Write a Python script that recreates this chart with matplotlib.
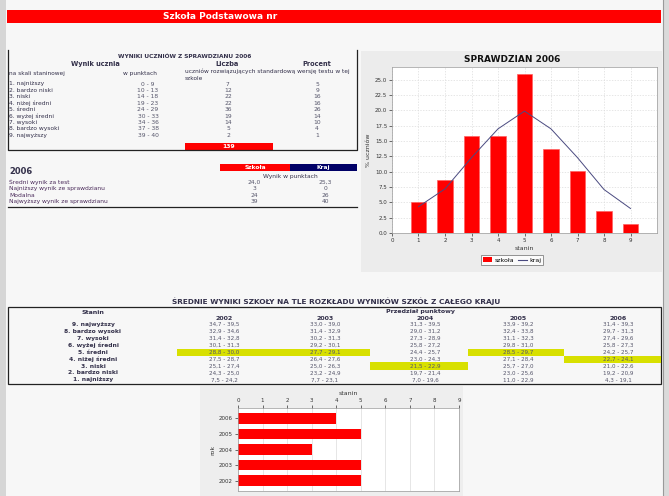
import matplotlib
matplotlib.use("Agg")
import matplotlib.pyplot as plt
from matplotlib.patches import Rectangle, Patch
from matplotlib.lines import Line2D

# ── data ────────────────────────────────────────────────────────────────
banner_title = "Szkoła Podstawowa nr"

stanin_labels = ["1. najniższy", "2. bardzo niski", "3. niski", "4. niżej średni",
                 "5. średni", "6. wyżej średni", "7. wysoki", "8. bardzo wysoki",
                 "9. najwyższy"]
point_ranges = ["0 - 9", "10 - 13", "14 - 18", "19 - 23", "24 - 29",
                "30 - 33", "34 - 36", "37 - 38", "39 - 40"]
student_counts = [7, 12, 22, 22, 36, 19, 14, 5, 2]
student_pct = [5, 9, 16, 16, 26, 14, 10, 4, 1]
total_students = 139

summary_labels = ["Średni wynik za test", "Najniższy wynik ze sprawdzianu",
                  "Modalna", "Najwyższy wynik ze sprawdzianu"]
summary_school = ["24,0", "3", "24", "39"]
summary_country = ["25,3", "0", "26", "40"]

stanins = [1, 2, 3, 4, 5, 6, 7, 8, 9]
school_pct = [5.0, 8.6, 15.8, 15.8, 25.9, 13.7, 10.1, 3.6, 1.4]
country_pct = [4.3, 7.2, 12.3, 17.0, 19.9, 17.0, 12.3, 7.1, 4.0]

years = ["2002", "2003", "2004", "2005", "2006"]
# rows from stanin 9 (top) down to stanin 1
ranges_2002 = ["34,7 - 39,5", "32,9 - 34,6", "31,4 - 32,8", "30,1 - 31,3", "28,8 - 30,0",
               "27,5 - 28,7", "25,1 - 27,4", "24,3 - 25,0", "7,5 - 24,2"]
ranges_2003 = ["33,0 - 39,0", "31,4 - 32,9", "30,2 - 31,3", "29,2 - 30,1", "27,7 - 29,1",
               "26,4 - 27,6", "25,0 - 26,3", "23,2 - 24,9", "7,7 - 23,1"]
ranges_2004 = ["31,3 - 39,5", "29,0 - 31,2", "27,3 - 28,9", "25,8 - 27,2", "24,4 - 25,7",
               "23,0 - 24,3", "21,5 - 22,9", "19,7 - 21,4", "7,0 - 19,6"]
ranges_2005 = ["33,9 - 39,2", "32,4 - 33,8", "31,1 - 32,3", "29,8 - 31,0", "28,5 - 29,7",
               "27,1 - 28,4", "25,7 - 27,0", "23,0 - 25,6", "11,0 - 22,9"]
ranges_2006 = ["31,4 - 39,3", "29,7 - 31,3", "27,4 - 29,6", "25,8 - 27,3", "24,2 - 25,7",
               "22,7 - 24,1", "21,0 - 22,6", "19,2 - 20,9", "4,3 - 19,1"]
school_stanin_by_year = [5, 5, 3, 5, 4]

RED = "#ff0000"
NAVY = "#000066"
YELLOW = "#d8e000"
LABEL_C = "#33304a"
VALUE_C = "#55556a"

W, H = 669, 496
fig = plt.figure(figsize=(W / 100, H / 100), dpi=100)
fig.patch.set_facecolor("#f7f7f7")

# background layer in pixel coordinates
bg = fig.add_axes([0, 0, 1, 1])
bg.set_xlim(0, W)
bg.set_ylim(H, 0)
bg.axis("off")


def rect(x0, y0, x1, y1, **kw):
    bg.add_patch(Rectangle((x0, y0), x1 - x0, y1 - y0, **kw))


def txt(x, y, s, size=4.3, ha="left", color=LABEL_C, weight="normal"):
    bg.text(x, y, s, fontsize=size, ha=ha, va="center", color=color, fontweight=weight)


def px_axes(x0, y0, x1, y1):
    return fig.add_axes([x0 / W, 1 - y1 / H, (x1 - x0) / W, (y1 - y0) / H])


# window frame strips
rect(0, 0, 6, H, color="#d6d6d6", lw=0)
rect(663, 0, W, H, color="#dadada", lw=0)
bg.plot([662.5, 662.5], [0, H], color="#9a9a9a", lw=0.8)

# banner
rect(7, 10, 661, 23, color=RED, lw=0)
txt(220, 16.5, banner_title, size=6.5, ha="center", color="white", weight="bold")

# ── table 1: student results ──────────────────────────────────────────────
txt(185, 56, "WYNIKI UCZNIÓW Z SPRAWDZIANU 2006", size=4.2, ha="center", weight="bold")
txt(95, 64, "Wynik ucznia", size=4.8, ha="center", weight="bold")
txt(227, 64, "Liczba", size=4.8, ha="center", weight="bold")
txt(317, 64, "Procent", size=4.8, ha="center", weight="bold")
txt(9, 73, "na skali staninowej", size=4.2)
txt(140, 73, "w punktach", size=4.2, ha="center")
txt(185, 71, "uczniów rozwiązujących standardową wersję testu w tej", size=4.2)
txt(185, 78, "szkole", size=4.2)
row_y = [84 + 6.4 * i for i in range(9)]
for i, y in enumerate(row_y):
    txt(9, y, stanin_labels[i])
    txt(148, y, point_ranges[i], ha="center", color=VALUE_C)
    txt(228, y, str(student_counts[i]), ha="center", color=VALUE_C)
    txt(317, y, str(student_pct[i]), ha="center", color=VALUE_C)
rect(185, 143, 273, 150, color=RED, lw=0)
txt(229, 146.5, str(total_students), ha="center", color="white", weight="bold")
bg.plot([8, 8, 357, 357], [50, 150, 150, 50], color="#222222", lw=0.9)

# ── table 2: summary 2006 ────────────────────────────────────────────────
txt(9, 171, "2006", size=6, weight="bold")
rect(220, 164, 290, 171, color=RED, lw=0)
rect(290, 164, 357, 171, color=NAVY, lw=0)
txt(255, 167.5, "Szkoła", size=4.2, ha="center", color="white", weight="bold")
txt(323, 167.5, "Kraj", size=4.2, ha="center", color="white", weight="bold")
txt(290, 176.5, "Wynik w punktach", size=4.3, ha="center")
for i, y in enumerate([182.5, 188.8, 195.1, 201.4]):
    txt(9, y, summary_labels[i], color="#4a2a5a")
    txt(254, y, summary_school[i], ha="center", color=VALUE_C)
    txt(325, y, summary_country[i], ha="center", color=VALUE_C)
bg.plot([8, 357], [206.5, 206.5], color="#222222", lw=0.9)

# ── table 3: school means against national stanine ranges ──────────────────
txt(336, 301.5, "ŚREDNIE WYNIKI SZKOŁY NA TLE ROZKŁADU WYNIKÓW SZKÓŁ Z CAŁEGO KRAJU",
    size=5.3, ha="center", weight="bold")
rect(8, 307, 661, 384, fill=False, ec="#222222", lw=0.9)
txt(93, 313, "Stanin", size=4.5, ha="center", weight="bold")
txt(421, 311.5, "Przedział punktowy", size=4.5, ha="center", weight="bold")
col_x = [224, 325, 425, 518, 618]
col_edges = [177, 270, 370, 468, 564, 661]
year_ranges = [ranges_2002, ranges_2003, ranges_2004, ranges_2005, ranges_2006]
t3_rows = [324.6 + 6.9 * i for i in range(9)]
for j, yr in enumerate(years):
    row = 9 - school_stanin_by_year[j]
    rect(col_edges[j], t3_rows[row] - 3.6, col_edges[j + 1], t3_rows[row] + 3.6,
         color=YELLOW, lw=0)
    txt(col_x[j], 318, yr, size=4.5, ha="center", weight="bold")
    for i, y in enumerate(t3_rows):
        txt(col_x[j], y, year_ranges[j][i], size=4.1, ha="center", color=VALUE_C)
for i, y in enumerate(t3_rows):
    txt(93, y, stanin_labels[8 - i], size=4.3, ha="center", weight="bold")

# ── chart: SPRAWDZIAN 2006 ─────────────────────────────────────────────────
rect(361, 51, 662, 272, color="#ececec", lw=0)
txt(512, 59, "SPRAWDZIAN 2006", size=6.5, ha="center", color="#111111", weight="bold")
ax = px_axes(392, 67, 657, 233)
ax.set_facecolor("white")
ax.bar(stanins, school_pct, width=0.6, color=RED, edgecolor="#ff6060", lw=0.5,
       zorder=2, label="szkoła")
ax.plot(stanins, country_pct, color="#4a4a80", lw=0.7, zorder=3, label="kraj")
ax.set_xlim(0, 10)
ax.set_ylim(0, 27.1)
ax.set_xticks(range(10))
ax.set_yticks([2.5 * k for k in range(11)])
ax.set_yticklabels([f"{2.5 * k:.1f}" for k in range(11)])
ax.grid(True, color="#dcdcdc", lw=0.5, ls=(0, (2, 2)), zorder=0)
ax.tick_params(labelsize=4, length=2, width=0.5, pad=1.5, colors="#333333")
for s in ax.spines.values():
    s.set_color("#999999")
    s.set_linewidth(0.5)
ax.set_xlabel("stanin", fontsize=4.5, labelpad=2, color="#333333")
ax.set_ylabel("% uczniów", fontsize=4.5, labelpad=3, color="#333333")
leg = ax.legend(handles=[Patch(facecolor=RED, label="szkoła"),
                         Line2D([0], [0], color="#4a4a80", lw=0.8, label="kraj")],
                loc="center", bbox_to_anchor=(512 / W, 1 - 260 / H),
                bbox_transform=fig.transFigure, ncol=2, fontsize=4.5,
                frameon=True, fancybox=False, edgecolor="#666666",
                handlelength=1.5, handletextpad=0.3, columnspacing=0.6,
                borderpad=0.35)
leg.get_frame().set_linewidth(0.6)
leg.get_frame().set_facecolor("white")

# ── chart: school stanin by year ───────────────────────────────────────────
rect(200, 386, 463, H, color="#eeeeee", lw=0)
bx = px_axes(238, 408, 459, 491)
bx.set_facecolor("white")
ypos = list(range(len(years)))
bx.barh(ypos, school_stanin_by_year, height=0.7, color=RED, zorder=2)
bx.set_xlim(0, 9)
bx.set_ylim(-0.67, len(years) - 0.33)
bx.set_yticks(ypos)
bx.set_yticklabels(years)
bx.set_xticks(range(10))
bx.xaxis.tick_top()
bx.xaxis.set_label_position("top")
bx.grid(True, axis="x", color="#dcdcdc", lw=0.5, zorder=0)
bx.tick_params(labelsize=4, length=2, width=0.5, pad=1.5, colors="#333333")
for s in bx.spines.values():
    s.set_color("#999999")
    s.set_linewidth(0.5)
bx.set_xlabel("stanin", fontsize=4.5, labelpad=2, color="#333333")
bx.set_ylabel("rok", fontsize=4.5, labelpad=3, color="#333333")

fig.savefig("out.png", dpi=100, facecolor=fig.get_facecolor())
